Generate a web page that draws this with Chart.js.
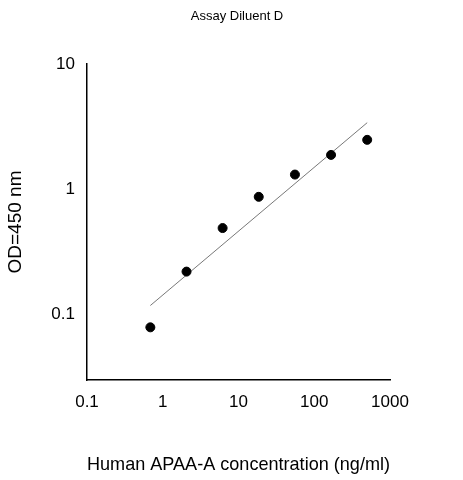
<!DOCTYPE html>
<html>
<head>
<meta charset="UTF-8">
<script src="https://cdn.jsdelivr.net/npm/chart.js"></script>
<style>
  body { margin: 0; background: #fff; }
</style>
</head>
<body>
<canvas id="c" width="463" height="480"></canvas>
<script>
const conc = [0.686, 2.06, 6.17, 18.5, 55.6, 166.7, 500];
const od = [0.079, 0.22, 0.49, 0.87, 1.31, 1.88, 2.48];
const fitX = [0.686, 500];
const fitY = [0.118, 3.4];
const xTicks = [0.1, 1, 10, 100, 1000];
const yTicks = [0.1, 1, 10];

const titlePlugin = {
  id: 'topTitle',
  afterDraw(chart) {
    const ctx = chart.ctx;
    ctx.save();
    ctx.font = '13px Arial, "Liberation Sans", sans-serif';
    ctx.fillStyle = '#000';
    ctx.textAlign = 'center';
    ctx.fillText('Assay Diluent D', 237, 20);
    ctx.restore();
  }
};

new Chart(document.getElementById('c'), {
  type: 'scatter',
  data: {
    datasets: [{
      data: conc.map((x, i) => ({ x: x, y: od[i] })),
      backgroundColor: '#000',
      borderColor: '#000',
      pointRadius: 4.5
    }, {
      type: 'line',
      data: fitX.map((x, i) => ({ x: x, y: fitY[i] })),
      borderColor: '#555',
      borderWidth: 0.8,
      pointRadius: 0,
      fill: false
    }]
  },
  plugins: [titlePlugin],
  options: {
    responsive: false,
    animation: false,
    layout: { padding: { top: 64, right: 73, left: 0, bottom: 0 } },
    plugins: { legend: { display: false }, tooltip: { enabled: false } },
    scales: {
      x: {
        type: 'logarithmic', min: 0.1, max: 1000,
        afterBuildTicks: s => { s.ticks = xTicks.map(v => ({ value: v })); },
        afterFit: s => { s.height = 100; },
        grid: { display: false, drawTicks: true, tickLength: 6, tickColor: '#000' },
        border: { color: '#000', width: 1.5 },
        ticks: { color: '#000', font: { size: 17, family: 'Arial, "Liberation Sans"' }, callback: v => String(v), maxRotation: 0, padding: 6 },
        title: { display: true, text: 'Human APAA-A concentration (ng/ml)', color: '#000', font: { size: 19, family: 'Arial, "Liberation Sans"' }, padding: { top: 20 } }
      },
      y: {
        type: 'logarithmic', min: 0.03, max: 10,
        afterBuildTicks: s => { s.ticks = yTicks.map(v => ({ value: v })); },
        afterFit: s => { s.width = 87; },
        grid: { display: false, drawTicks: true, tickLength: 6, tickColor: '#000' },
        border: { color: '#000', width: 1.5 },
        ticks: { color: '#000', font: { size: 17, family: 'Arial, "Liberation Sans"' }, callback: v => String(v), padding: 6 },
        title: { display: true, text: 'OD=450 nm', color: '#000', font: { size: 19, family: 'Arial, "Liberation Sans"' }, padding: { bottom: 0 } }
      }
    }
  }
});
</script>
</body>
</html>
